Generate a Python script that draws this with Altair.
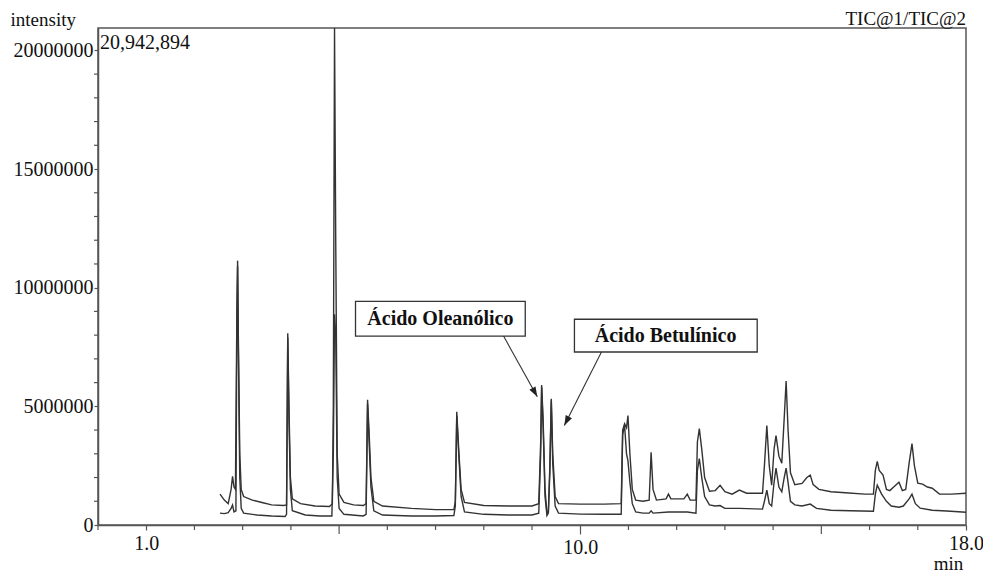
import altair as alt
import pandas as pd

# ---------------- data (minutes, intensity in millions) ----------------
t_upper = [2.53, 2.62, 2.70, 2.76, 2.79, 2.82, 2.85, 2.88, 2.895, 2.91, 2.94, 2.97, 3.02, 3.2, 3.4, 3.6,
           3.85, 3.91, 3.935, 3.96, 3.99, 4.03, 4.2, 4.5, 4.8, 4.86, 4.88, 4.905, 4.93, 4.96, 5.0, 5.1,
           5.3, 5.5, 5.56, 5.59, 5.62, 5.66, 5.72, 5.9, 6.5, 7.0, 7.38, 7.41, 7.44, 7.48, 7.53, 7.6,
           8.0, 8.5, 9.0, 9.14, 9.18, 9.20, 9.23, 9.27, 9.31, 9.34, 9.37, 9.40, 9.43, 9.48, 9.55, 10.0,
           10.5, 10.85, 10.88, 10.92, 10.96, 10.99, 11.03, 11.08, 11.15, 11.3, 11.43, 11.47, 11.51, 11.58,
           11.78, 11.83, 11.88, 12.15, 12.22, 12.28, 12.40, 12.43, 12.47, 12.52, 12.58, 12.68, 12.80,
           12.90, 13.0, 13.15, 13.30, 13.45, 13.78, 13.82, 13.87, 13.92, 13.97, 14.02, 14.06, 14.12,
           14.18, 14.23, 14.27, 14.31, 14.36, 14.45, 14.6, 14.70, 14.77, 14.83, 14.95, 15.2, 15.5,
           15.9, 16.08, 16.12, 16.16, 16.2, 16.28, 16.35, 16.42, 16.50, 16.61, 16.68, 16.75, 16.82,
           16.88, 16.93, 17.0, 17.1, 17.2, 17.3, 17.45, 17.7, 18.0]
v_upper = [1.30, 1.05, 0.90, 1.50, 2.05, 1.60, 1.50, 9.0, 11.14, 8.0, 3.0, 1.5, 1.2, 1.05, 0.95, 0.85,
           0.82, 0.85, 8.08, 5.0, 2.0, 1.1, 0.9, 0.8, 0.78, 0.9, 5.0, 20.94, 12.0, 3.0, 1.3, 0.95,
           0.85, 0.82, 0.9, 5.28, 4.0, 2.0, 1.0, 0.8, 0.7, 0.65, 0.65, 1.0, 4.77, 3.2, 1.5, 0.95,
           0.82, 0.8, 0.8, 0.9, 3.5, 5.9, 4.5, 1.5, 0.5, 0.6, 2.5, 5.32, 3.0, 1.2, 0.9, 0.88,
           0.88, 0.9, 4.0, 4.27, 4.1, 4.61, 3.0, 1.5, 1.05, 1.0, 1.05, 3.06, 1.5, 1.05,
           1.1, 1.3, 1.1, 1.1, 1.3, 1.05, 1.05, 3.5, 4.06, 3.2, 2.0, 1.42, 1.45,
           1.67, 1.4, 1.3, 1.47, 1.34, 1.34, 2.5, 4.19, 2.5, 1.68, 3.2, 3.77, 2.9,
           2.6, 4.5, 6.07, 4.0, 2.2, 1.7, 1.75, 2.0, 2.1, 1.7, 1.5, 1.4, 1.36,
           1.3, 1.3, 2.3, 2.68, 2.3, 2.1, 1.5, 1.45, 1.6, 1.8, 1.45, 1.5, 2.6,
           3.43, 2.5, 1.76, 1.72, 1.6, 1.55, 1.3, 1.3, 1.34]

t_lower = [2.53, 2.62, 2.70, 2.76, 2.79, 2.82, 2.86, 2.88, 2.895, 2.91, 2.94, 2.97, 3.02, 3.3, 3.6,
           3.88, 3.91, 3.935, 3.96, 3.99, 4.03, 4.3, 4.6, 4.85, 4.88, 4.905, 4.93, 4.96, 5.0, 5.1,
           5.5, 5.56, 5.59, 5.62, 5.66, 5.72, 5.9, 6.5, 7.0, 7.38, 7.41, 7.44, 7.48, 7.53, 7.6,
           8.0, 8.5, 9.0, 9.14, 9.18, 9.20, 9.23, 9.27, 9.31, 9.34, 9.37, 9.40, 9.43, 9.48, 9.55,
           10.0, 10.5, 10.85, 10.88, 10.92, 10.96, 10.99, 11.03, 11.08, 11.15, 11.3, 11.43, 11.47,
           11.51, 11.83, 12.22, 12.40, 12.43, 12.47, 12.52, 12.58, 12.68, 12.80, 12.90, 13.0, 13.3,
           13.78, 13.82, 13.87, 13.92, 13.97, 14.02, 14.06, 14.12, 14.18, 14.23, 14.27, 14.31, 14.36,
           14.45, 14.6, 14.77, 14.9, 15.2, 15.6, 16.08, 16.12, 16.16, 16.25, 16.35, 16.45, 16.61,
           16.7, 16.82, 16.88, 16.95, 17.05, 17.3, 17.6, 18.0]
v_lower = [0.50, 0.48, 0.52, 0.70, 0.84, 0.55, 0.60, 8.5, 10.9, 7.5, 2.0, 0.7, 0.5, 0.42, 0.38,
           0.36, 0.45, 7.9, 4.5, 1.5, 0.6, 0.42, 0.38, 0.38, 3.0, 8.88, 8.0, 2.0, 0.7, 0.45,
           0.38, 0.45, 5.1, 3.6, 1.6, 0.6, 0.42, 0.38, 0.38, 0.4, 0.8, 4.6, 3.0, 1.2, 0.55,
           0.45, 0.42, 0.42, 0.5, 3.0, 5.8, 4.2, 1.2, 0.4, 0.5, 2.2, 5.25, 2.6, 0.8, 0.5,
           0.46, 0.45, 0.45, 3.8, 4.2, 3.0, 2.7, 1.8, 0.9, 0.55, 0.5, 0.5, 0.6,
           0.5, 0.55, 0.55, 0.5, 2.3, 2.8, 2.0, 1.2, 0.85, 0.8, 0.82, 0.7, 0.7,
           0.67, 1.0, 1.47, 0.9, 0.8, 1.8, 2.4, 1.6, 1.4, 2.0, 2.4, 1.8, 1.0,
           0.85, 0.8, 0.88, 0.7, 0.62, 0.6, 0.58, 1.3, 1.68, 1.3, 1.0, 0.8, 0.75,
           0.8, 1.1, 1.3, 0.9, 0.71, 0.62, 0.59, 0.54]

MAX_INT = 20942894

# axis ticks
x_label_ticks = [1, 10, 18]
x_minor_short = [0, 2, 3, 4, 6, 7, 8, 9, 11, 12, 13, 14, 16, 17]
x_minor_long = [5, 15]
y_label_ticks = [0, 5000000, 10000000, 15000000, 20000000]
y_minor = [1e6, 2e6, 3e6, 4e6, 6e6, 7e6, 8e6, 9e6, 11e6, 12e6, 13e6, 14e6,
           16e6, 17e6, 18e6, 19e6]

# annotations (data coordinates: minutes, millions)
ann_labels = ["Ácido Oleanólico", "Ácido Betulínico"]
box_x1 = [5.34, 9.88]
box_x2 = [8.86, 13.67]
box_y1 = [7.96, 7.29]
box_y2 = [9.42, 8.67]
text_x = [7.10, 11.77]
text_y = [8.69, 7.98]
arrow_x1 = [8.41, 10.44]
arrow_y1 = [7.96, 7.29]
arrow_x2 = [9.11, 9.67]
arrow_y2 = [5.40, 4.19]
arrow_angle = [151, 207]

FONT = "Liberation Serif"
FS = 20
FS_EDGE = 19
INK = "#111111"
AXC = "#555555"
W, H = 868, 497

df = pd.concat([
    pd.DataFrame({"t": t_upper, "v": [x * 1e6 for x in v_upper], "trace": "TIC@1"}),
    pd.DataFrame({"t": t_lower, "v": [x * 1e6 for x in v_lower], "trace": "TIC@2"}),
])

ann = pd.DataFrame({
    "label": ann_labels,
    "bx1": box_x1, "bx2": box_x2,
    "by1": [y * 1e6 for y in box_y1], "by2": [y * 1e6 for y in box_y2],
    "tx": text_x, "ty": [y * 1e6 for y in text_y],
    "ax1": arrow_x1, "ay1": [y * 1e6 for y in arrow_y1],
    "ax2": arrow_x2, "ay2": [y * 1e6 for y in arrow_y2],
    "ang": arrow_angle,
})

top_df = pd.DataFrame({"x": [0, 18], "y": [MAX_INT, MAX_INT],
                       "txt": ["20,942,894", "TIC@1/TIC@2"]})

xscale = alt.Scale(domain=[0, 18], nice=False, zero=False)
yscale = alt.Scale(domain=[0, MAX_INT], nice=False)

x_axis = alt.Axis(
    values=x_label_ticks,
    format=".1f",
    tickSize={"condition": {"test": "datum.value == 10", "value": 9}, "value": 5},
    labelPadding=3,
    labelOverlap=False,
    labelFlush=False,
    grid=False,
    title="min",
    titleX=850, titleY=44,
    titleAlign="center", titleBaseline="alphabetic",
    titleFontWeight="normal", titleFontSize=FS_EDGE,
)
y_axis = alt.Axis(
    values=y_label_ticks,
    format="d",
    tickSize=4,
    labelPadding=1,
    labelOverlap=False,
    labelFlush=False,
    grid=False,
    title="intensity",
    titleAngle=0, titleX=-88, titleY=-3,
    titleAlign="left", titleBaseline="alphabetic",
    titleFontWeight="normal", titleFontSize=FS_EDGE,
)

XT = "min"
YT = "intensity"

lines = alt.Chart(df).mark_line(color="#333333", strokeWidth=1.4, clip=True).encode(
    x=alt.X("t:Q", scale=xscale, axis=x_axis, title=XT),
    y=alt.Y("v:Q", scale=yscale, axis=y_axis, title=YT),
    detail="trace:N",
    order="t:Q",
)

xs_df = pd.DataFrame({"x": x_minor_short})
xl_df = pd.DataFrame({"x": x_minor_long})
ym_df = pd.DataFrame({"y": y_minor})

xminor_s = alt.Chart(xs_df).mark_rule(color=AXC, strokeWidth=1.2).encode(
    x=alt.X("x:Q", title=XT), y=alt.value(H), y2=alt.value(H + 5))
xminor_l = alt.Chart(xl_df).mark_rule(color=AXC, strokeWidth=1.2).encode(
    x=alt.X("x:Q", title=XT), y=alt.value(H), y2=alt.value(H + 9))
yminor = alt.Chart(ym_df).mark_rule(color=AXC, strokeWidth=1.2).encode(
    y=alt.Y("y:Q", title=YT), x=alt.value(-4), x2=alt.value(0))

rects = alt.Chart(ann).mark_rect(fill="white", stroke="#333333", strokeWidth=1.3).encode(
    x=alt.X("bx1:Q", title=XT), x2="bx2:Q",
    y=alt.Y("by1:Q", title=YT), y2="by2:Q",
)
labels = alt.Chart(ann).mark_text(font=FONT, fontSize=FS, fontWeight="bold", color=INK,
                                  align="center", baseline="middle").encode(
    x=alt.X("tx:Q", title=XT), y=alt.Y("ty:Q", title=YT), text="label:N",
)
rules = alt.Chart(ann).mark_rule(color="#333333", strokeWidth=1.1).encode(
    x=alt.X("ax1:Q", title=XT), y=alt.Y("ay1:Q", title=YT), x2="ax2:Q", y2="ay2:Q",
)
heads = alt.Chart(ann).mark_point(shape="M0,0 L-0.35,1 L0.35,1 Z", filled=True, color="#222222",
                                  size=400, opacity=1).encode(
    x=alt.X("ax2:Q", title=XT), y=alt.Y("ay2:Q", title=YT),
    angle=alt.Angle("ang:Q", scale=None),
)
maxtext = alt.Chart(top_df).transform_filter("datum.x == 0").mark_text(
    font=FONT, fontSize=FS, color=INK, align="left", baseline="top", dx=2, dy=5).encode(
    x=alt.X("x:Q", title=XT), y=alt.Y("y:Q", title=YT), text="txt:N",
)
tictext = alt.Chart(top_df).transform_filter("datum.x == 18").mark_text(
    font=FONT, fontSize=FS_EDGE, color=INK, align="right", baseline="alphabetic", dx=0, dy=-3).encode(
    x=alt.X("x:Q", title=XT), y=alt.Y("y:Q", title=YT), text="txt:N",
)

chart = alt.layer(lines, xminor_s, xminor_l, yminor, rects, rules, heads, labels,
                  maxtext, tictext).properties(
    width=W, height=H,
    autosize=alt.AutoSizeParams(type="none"),
    padding={"left": 90, "top": 20, "right": 17, "bottom": 48},
    background="white",
).configure_view(
    stroke=AXC, strokeWidth=1.5,
).configure_axis(
    domainColor=AXC, domainWidth=1.5, tickColor=AXC, tickWidth=1.2,
    labelFont=FONT, labelFontSize=FS, labelColor=INK,
    titleFont=FONT, titleFontSize=FS, titleColor=INK,
)

chart.save("out.html", embed_options={"renderer": "svg", "actions": False})
